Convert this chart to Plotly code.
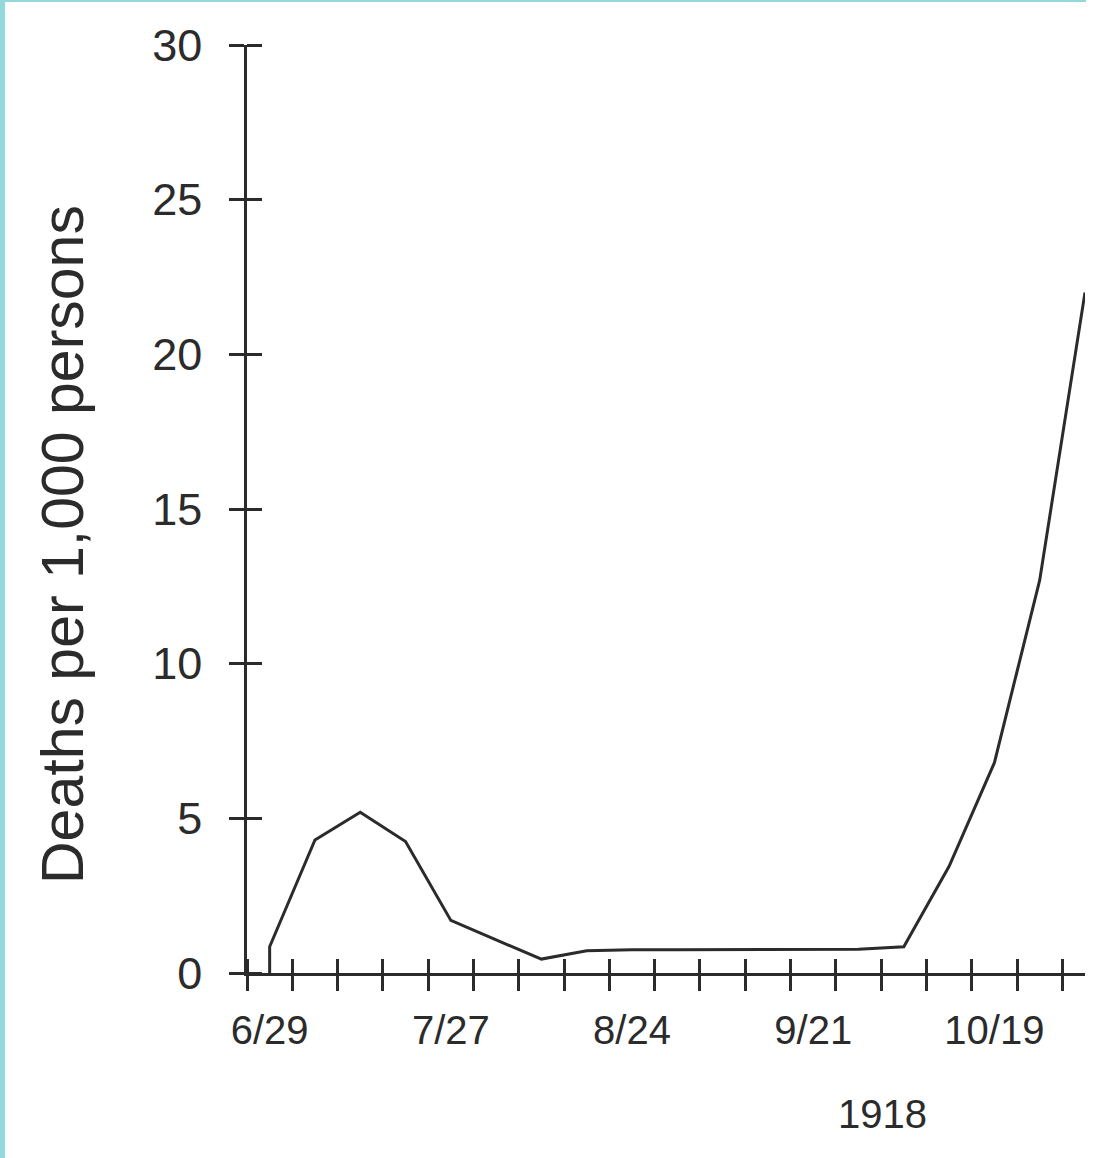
import plotly.graph_objects as go

# ---- data ----
week_dates = ["1918-06-29", "1918-06-29", "1918-07-06", "1918-07-13", "1918-07-20", "1918-07-27",
              "1918-08-03", "1918-08-10", "1918-08-17", "1918-08-24", "1918-08-31",
              "1918-09-07", "1918-09-14", "1918-09-21", "1918-09-28", "1918-10-05",
              "1918-10-12", "1918-10-19", "1918-10-26", "1918-11-02"]
deaths = [0.0, 0.85, 4.3, 5.2, 4.25, 1.7,
          1.07, 0.45, 0.72, 0.75, 0.75,
          0.75, 0.75, 0.75, 0.77, 0.85,
          3.45, 6.8, 12.7, 22.0]

label_dates = ["1918-06-29", "1918-07-27", "1918-08-24", "1918-09-21", "1918-10-19"]
label_text = ["6/29", "7/27", "8/24", "9/21", "10/19"]
week_ticks = ["1918-06-25 12:00", "1918-07-02 12:00", "1918-07-09 12:00", "1918-07-16 12:00",
              "1918-07-23 12:00", "1918-07-30 12:00", "1918-08-06 12:00", "1918-08-13 12:00",
              "1918-08-20 12:00", "1918-08-27 12:00", "1918-09-03 12:00", "1918-09-10 12:00",
              "1918-09-17 12:00", "1918-09-24 12:00", "1918-10-01 12:00", "1918-10-08 12:00",
              "1918-10-15 12:00", "1918-10-22 12:00", "1918-10-29 12:00"]
y_ticks = [0, 5, 10, 15, 20, 25, 30]
y_title = "Deaths per 1,000 persons"
year_label = "1918"

# ---- layout geometry ----
W, H = 1094, 1158
x_range = ["1918-06-25 12:00", "1918-11-02"]
y_range = [0, 30]
xdom = [247 / W, 1085 / W]
ydom = [(H - 973) / H, (H - 45) / H]
TL = 15  # half tick length
TW = 2.6  # tick width

INK = "#2b2b2b"
FONT = "Liberation Sans, Arial, Helvetica, sans-serif"

fig = go.Figure()
fig.add_trace(go.Scatter(x=week_dates, y=deaths, mode="lines",
                         line=dict(color=INK, width=3), xaxis="x", yaxis="y",
                         showlegend=False, hoverinfo="skip"))
# invisible helpers so overlay axes render
fig.add_trace(go.Scatter(x=week_dates, y=deaths, mode="lines", line=dict(width=0),
                         xaxis="x2", yaxis="y2", showlegend=False, hoverinfo="skip"))
fig.add_trace(go.Scatter(x=week_dates, y=deaths, mode="lines", line=dict(width=0),
                         xaxis="x3", yaxis="y", showlegend=False, hoverinfo="skip"))

common_x = dict(type="date", range=x_range, domain=xdom, showgrid=False, zeroline=False,
                fixedrange=True, automargin=False)
common_y = dict(range=y_range, domain=ydom, showgrid=False, zeroline=False, fixedrange=True,
                automargin=False)

fig.update_layout(
    template="none",
    width=W, height=H,
    margin=dict(l=0, r=0, t=0, b=0, pad=0, autoexpand=False),
    paper_bgcolor="white", plot_bgcolor="white",
    showlegend=False,
    font=dict(family=FONT, color=INK),
    xaxis=dict(**common_x, anchor="y", tickmode="array", tickvals=week_ticks,
               ticks="outside", ticklen=TL, tickwidth=TW, tickcolor=INK,
               showticklabels=False, showline=True, linecolor=INK, linewidth=2.6),
    # upper half of the crossing ticks: a free axis placed TL px above the x axis
    xaxis2=dict(**common_x, anchor="free", overlaying="x", side="bottom",
                position=(H - 973 + TL) / H, tickmode="array", tickvals=week_ticks,
                ticks="outside", ticklen=TL, tickwidth=TW, tickcolor=INK,
                showticklabels=False, showline=False),
    xaxis3=dict(**common_x, anchor="y", overlaying="x", tickmode="array", tickvals=label_dates,
                ticktext=label_text, ticks="", showline=False,
                tickfont=dict(family=FONT, size=40, color=INK), ticklabelstandoff=30),
    yaxis=dict(**common_y, anchor="x", tickmode="array", tickvals=y_ticks,
               ticks="outside", ticklen=TL, tickwidth=TW, tickcolor=INK,
               showline=True, linecolor=INK, linewidth=2.6,
               tickfont=dict(family=FONT, size=45, color=INK), ticklabelstandoff=18),
    # right half of the crossing ticks: a free axis placed TL px right of the y axis
    yaxis2=dict(**common_y, anchor="free", overlaying="y", side="left",
                position=(247 + TL) / W, tickmode="array", tickvals=y_ticks,
                ticks="outside", ticklen=TL, tickwidth=TW, tickcolor=INK,
                showticklabels=False, showline=False),
    annotations=[
        dict(text=y_title, x=63 / W, y=1 - 545 / H, xref="paper", yref="paper",
             textangle=-90, showarrow=False, xanchor="center", yanchor="middle",
             font=dict(family=FONT, size=59, color=INK)),
        dict(text=year_label, x=882 / W, y=1 - 1114 / H, xref="paper", yref="paper",
             showarrow=False, xanchor="center", yanchor="middle",
             font=dict(family=FONT, size=40, color=INK)),
    ],
    shapes=[
        dict(type="rect", xref="paper", yref="paper", x0=0, x1=5 / W, y0=0, y1=1,
             fillcolor="#93d8db", line=dict(width=0), layer="above"),
        dict(type="rect", xref="paper", yref="paper", x0=0, x1=1086 / W, y0=1 - 2 / H, y1=1,
             fillcolor="#93d8db", line=dict(width=0), layer="above"),
    ],
)

fig.write_html("out.html")
